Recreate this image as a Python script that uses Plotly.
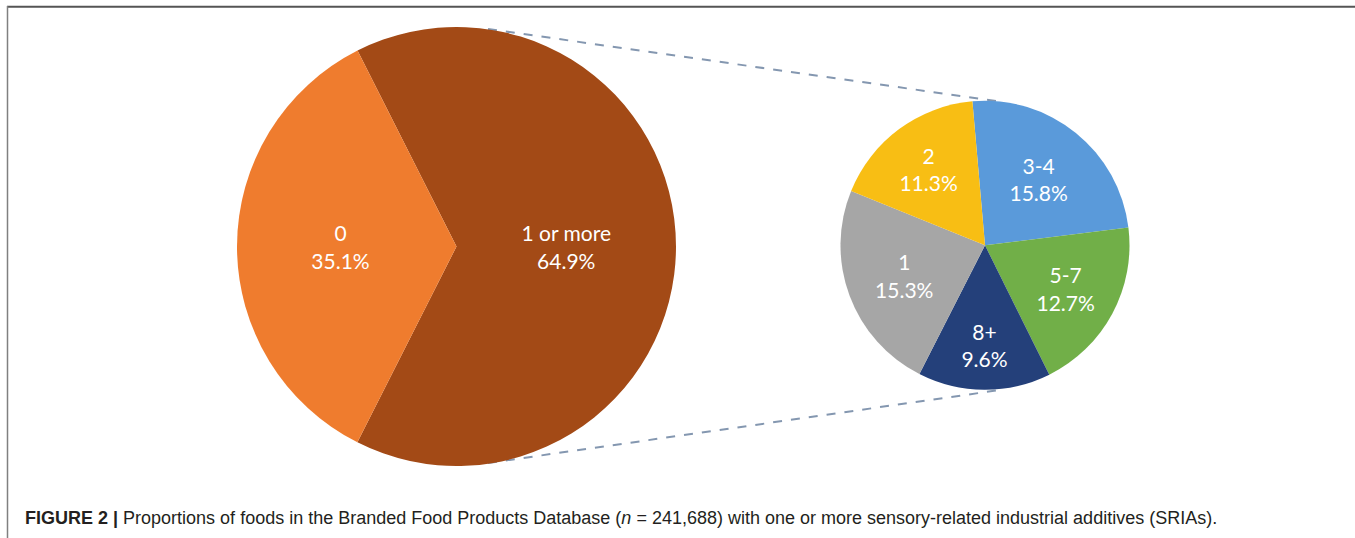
import plotly.graph_objects as go

W, H = 1355, 538

# ---- data ----
main_labels = ["1 or more", "0"]
main_values = [64.9, 35.1]
main_colors = ["#A34A16", "#EF7C2E"]

sub_labels = ["3-4", "5-7", "8+", "1", "2"]
sub_values = [15.8, 12.7, 9.6, 15.3, 11.3]
sub_colors = ["#5A9ADA", "#71AF48", "#24407A", "#A6A6A6", "#F8BE14"]

caption = ("<b>FIGURE 2 |</b> Proportions of foods in the Branded Food Products Database "
           "(<i>n</i> = 241,688) with one or more sensory-related industrial additives (SRIAs).")


def px(x):
    return x / W


def py(y):
    return 1 - y / H


label_font = dict(family="Lato, 'Open Sans', sans-serif", size=21, color="white")

fig = go.Figure()

fig.add_trace(go.Pie(
    labels=main_labels, values=main_values, sort=False, direction="clockwise",
    rotation=-26.8,
    marker=dict(colors=main_colors, line=dict(width=0)),
    texttemplate="%{label}<br>%{value:.1f}%", textposition="inside",
    insidetextorientation="horizontal",
    textfont=label_font, hoverinfo="label+value",
    domain=dict(x=[px(237), px(676)], y=[py(466), py(27)]),
    showlegend=False,
))

fig.add_trace(go.Pie(
    labels=sub_labels, values=sub_values, sort=False, direction="clockwise",
    rotation=-5,
    marker=dict(colors=sub_colors, line=dict(width=0)),
    texttemplate="%{label}<br>%{value:.1f}%", textposition="inside",
    insidetextorientation="horizontal",
    textfont=label_font, hoverinfo="label+value",
    domain=dict(x=[px(840.5), px(1129.5)], y=[py(389.8), py(100.8)]),
    showlegend=False,
))

shapes = [
    # connector dashed lines
    dict(type="line", xref="paper", yref="paper", x0=px(488), y0=py(29), x1=px(1003), y1=py(102),
         line=dict(color="#8497B0", width=2, dash="dash"), layer="below"),
    dict(type="line", xref="paper", yref="paper", x0=px(488), y0=py(463), x1=px(1000), y1=py(390),
         line=dict(color="#8497B0", width=2, dash="dash"), layer="below"),
    # frame (top and left borders)
    dict(type="line", xref="paper", yref="paper", x0=px(7), y0=py(6.7), x1=1, y1=py(6.7),
         line=dict(color="#555555", width=2)),
    dict(type="line", xref="paper", yref="paper", x0=px(7.5), y0=py(6), x1=px(7.5), y1=0,
         line=dict(color="#808080", width=1.5)),
]

fig.update_layout(
    width=W, height=H,
    margin=dict(l=0, r=0, t=0, b=0),
    paper_bgcolor="white", plot_bgcolor="white",
    shapes=shapes,
    annotations=[dict(
        text=caption, xref="paper", yref="paper", x=px(23), y=py(518),
        xanchor="left", yanchor="middle", showarrow=False,
        font=dict(family="Liberation Sans, Arial, sans-serif", size=18, color="#231F20"),
    )],
)

fig.write_html("out.html")
